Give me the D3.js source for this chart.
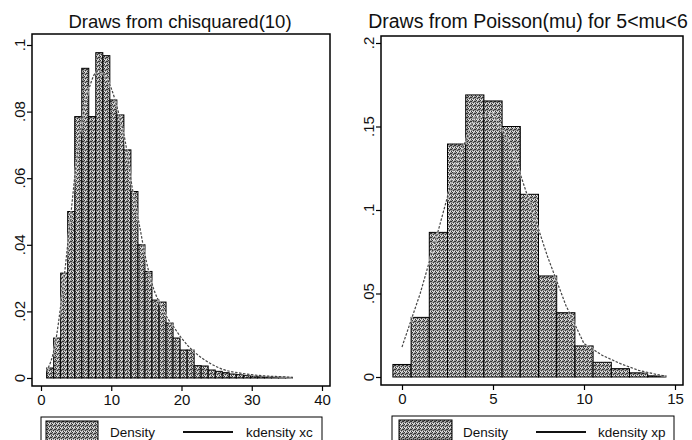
<!DOCTYPE html>
<html><head><meta charset="utf-8">
<script src="https://cdn.jsdelivr.net/npm/d3@7"></script>
<style>body{margin:0;background:#fff}svg{display:block;font-family:"Liberation Sans",Arial,sans-serif}</style>
</head><body><svg id="c" width="692" height="440"></svg>
<script>
// ---------- data ----------
const chiTitle = "Draws from chisquared(10)";
const poiTitle = "Draws from Poisson(mu) for 5<mu<6";
const chiBinStart = 0.8, chiBinWidth = 1;
const chiDensity = [0.003,0.012,0.0315,0.050,0.0785,0.093,0.0785,0.0977,0.0968,0.0835,
  0.079,0.0685,0.056,0.040,0.032,0.0234,0.0228,0.0165,0.012,0.0084,0.0084,0.0037,0.0036,
  0.0024,0.002,0.0016,0.0012,0.001,0.0008,0.0006,0.0005,0.0004,0.0003,0.0003,0.0002];
const chiKdeX = [0.8,2,3,4,5,6,7,8,9,10,11,12,13,14,15,16,17,18,19,20,22,24,26,28,30,32,34,35.8];
const chiKdeY = [0.002,0.010,0.025,0.044,0.064,0.079,0.088,0.092,0.091,0.087,0.080,0.071,0.057,
  0.046,0.035,0.027,0.022,0.018,0.015,0.012,0.0075,0.0045,0.0025,0.0016,0.0010,0.0006,0.0004,0.0002];
const chiXTicks = [0,10,20,30,40];
const chiXLabels = ["0","10","20","30","40"];
const chiYTicks = [0,0.02,0.04,0.06,0.08,0.1];
const chiYLabels = ["0",".02",".04",".06",".08",".1"];

const poiValues = [0,1,2,3,4,5,6,7,8,9,10,11,12,13,14];
const poiDensity = [0.0075,0.0357,0.0866,0.1395,0.1689,0.1653,0.150,0.1094,0.0605,0.0385,
  0.0186,0.0088,0.0050,0.0025,0.0007];
const poiKdeX = [0,1,2,3,4,5,6,7,8,9,10,11,12,13,14,14.5];
const poiKdeY = [0.018,0.050,0.088,0.128,0.155,0.158,0.138,0.105,0.072,0.043,0.020,0.013,0.008,0.004,0.0015,0.0005];
const poiXTicks = [0,5,10,15];
const poiXLabels = ["0","5","10","15"];
const poiYTicks = [0,0.05,0.1,0.15,0.2];
const poiYLabels = ["0",".05",".1",".15",".2"];

const legendLabels = {chi:["Density","kdensity xc"], poi:["Density","kdensity xp"]};

// ---------- drawing ----------
const svg = d3.select("#c");
const defs = svg.append("defs");
const pat = defs.append("pattern").attr("id","stip").attr("patternUnits","userSpaceOnUse")
  .attr("width",4).attr("height",4);
pat.append("rect").attr("width",4).attr("height",4).attr("fill","#9c9c9c");
[[0,0],[2,1],[1,2],[3,3],[3,1]].forEach(([a,b])=>pat.append("rect").attr("x",a).attr("y",b).attr("width",1).attr("height",1).attr("fill","#333"));
[[1,0],[0,3],[2,3]].forEach(([a,b])=>pat.append("rect").attr("x",a).attr("y",b).attr("width",1).attr("height",1).attr("fill","#e8e8e8"));

function panel(cfg){
  const g = svg.append("g");
  const x = d3.scaleLinear().domain(cfg.xDom).range(cfg.xRange);
  const y = d3.scaleLinear().domain(cfg.yDom).range(cfg.yRange);
  const f = cfg.frame;
  g.append("text").attr("x",cfg.titleX).attr("y",28).attr("text-anchor","middle")
    .attr("font-size",cfg.titleSize).attr("fill","#111").text(cfg.title);
  g.selectAll("rect.bar").data(cfg.bars).join("rect").attr("class","bar")
    .attr("x",d=>x(d.x0)).attr("width",d=>x(d.x1)-x(d.x0))
    .attr("y",d=>y(d.v)).attr("height",d=>y(0)-y(d.v))
    .attr("fill","url(#stip)").attr("stroke","#000").attr("stroke-width",1);
  const pts = cfg.kx.map((v,i)=>[v,cfg.ky[i]]);
  const line = d3.line().x(d=>x(d[0])).y(d=>y(d[1])).curve(cfg.curve);
  g.append("path").attr("d",line(pts)).attr("fill","none").attr("stroke","#fff")
    .attr("stroke-width",2.2).attr("stroke-opacity",0.6);
  g.append("path").attr("d",line(pts)).attr("fill","none").attr("stroke","#444")
    .attr("stroke-width",1.2).attr("stroke-dasharray","2.5,1.5");
  g.append("rect").attr("x",f[0]).attr("y",f[1]).attr("width",f[2]-f[0]).attr("height",f[3]-f[1])
    .attr("fill","none").attr("stroke","#000").attr("stroke-width",1.5);
  const xa = g.append("g").attr("transform",`translate(0,${f[3]})`)
    .call(d3.axisBottom(x).tickValues(cfg.xTicks).tickSize(5).tickPadding(3)
      .tickFormat((d,i)=>cfg.xLabels[i]));
  xa.select(".domain").remove();
  xa.selectAll("text").attr("font-size",15).attr("fill","#111").attr("font-family","Liberation Sans, Arial, sans-serif");
  xa.selectAll("line").attr("stroke","#000").attr("stroke-width",1.2);
  const ya = g.append("g").attr("transform",`translate(${f[0]},0)`)
    .call(d3.axisLeft(y).tickValues(cfg.yTicks).tickSize(5).tickFormat(""));
  ya.select(".domain").remove();
  ya.selectAll("line").attr("stroke","#000").attr("stroke-width",1.2);
  g.selectAll("text.yl").data(cfg.yTicks).join("text").attr("class","yl")
    .attr("transform",d=>`translate(${f[0]-12},${y(d)}) rotate(-90)`)
    .attr("text-anchor","middle").attr("dy","0.35em").attr("font-size",15).attr("fill","#111")
    .text((d,i)=>cfg.yLabels[i]);
  const L = cfg.legend;
  g.append("rect").attr("x",L.x0).attr("y",L.y0).attr("width",L.x1-L.x0).attr("height",40)
    .attr("fill","#fff").attr("stroke","#000").attr("stroke-width",1);
  g.append("rect").attr("x",L.sw0).attr("y",L.y0+4).attr("width",L.sw1-L.sw0).attr("height",20)
    .attr("fill","url(#stip)").attr("stroke","#000").attr("stroke-width",1);
  g.append("text").attr("x",L.t1).attr("y",437).attr("font-size",13.5).attr("fill","#111").text(cfg.legendText[0]);
  g.append("line").attr("x1",L.l0).attr("x2",L.l1).attr("y1",432).attr("y2",432)
    .attr("stroke","#111").attr("stroke-width",2);
  g.append("text").attr("x",L.t2).attr("y",437).attr("font-size",13.5).attr("fill","#111").text(cfg.legendText[1]);
}

panel({
  title: chiTitle, titleX: 180, titleSize: 18.5,
  xDom:[0,40], xRange:[41,322], yDom:[0,0.1], yRange:[378,45],
  frame:[32,34,330,386],
  bars: chiDensity.map((v,i)=>({x0:chiBinStart+i*chiBinWidth, x1:chiBinStart+(i+1)*chiBinWidth, v})),
  kx: chiKdeX, ky: chiKdeY, curve: d3.curveMonotoneX,
  xTicks: chiXTicks, xLabels: chiXLabels, yTicks: chiYTicks, yLabels: chiYLabels,
  legend:{x0:41,x1:322,y0:417,sw0:46,sw1:98,t1:110,l0:183,l1:233,t2:246},
  legendText: legendLabels.chi
});
panel({
  title: poiTitle, titleX: 528, titleSize: 19.5,
  xDom:[0,15], xRange:[402,675], yDom:[0,0.2], yRange:[377,43],
  frame:[381,36,683,385],
  bars: poiValues.map((c,i)=>({x0:c-0.5, x1:c+0.5, v:poiDensity[i]})),
  kx: poiKdeX, ky: poiKdeY, curve: d3.curveLinear,
  xTicks: poiXTicks, xLabels: poiXLabels, yTicks: poiYTicks, yLabels: poiYLabels,
  legend:{x0:392,x1:674,y0:416,sw0:399,sw1:452,t1:463,l0:536,l1:586,t2:598},
  legendText: legendLabels.poi
});
</script></body></html>
